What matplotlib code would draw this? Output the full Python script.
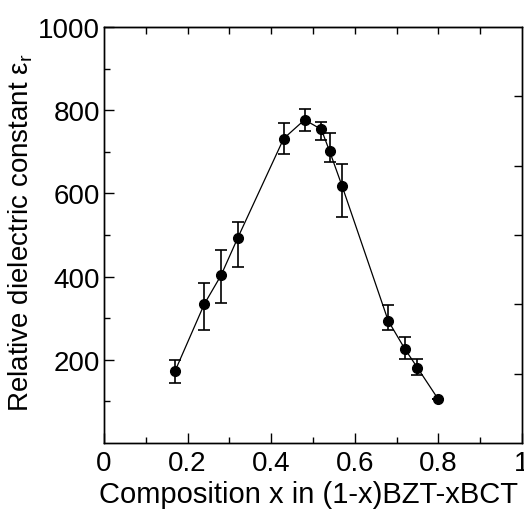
import matplotlib
matplotlib.use('Agg')
import matplotlib.pyplot as plt
import numpy as np

plt.rcParams['font.family'] = ['Liberation Sans', 'DejaVu Sans']

# composition x and relative dielectric constant
x_comp = [0.17, 0.24, 0.28, 0.32, 0.43, 0.48, 0.52, 0.54, 0.57, 0.68, 0.72, 0.75, 0.80]
eps_r = [173, 334, 403, 493, 732, 777, 754, 701, 617, 294, 226, 181, 105]
err_low = [29, 63, 66, 70, 37, 27, 26, 25, 74, 23, 25, 17, 0]
err_high = [26, 51, 60, 38, 37, 25, 18, 45, 54, 37, 29, 20, 0]

fig = plt.figure(figsize=(5.24, 5.10), dpi=100)
ax = fig.add_axes([0.1985, 0.1294, 0.7975, 0.8156])

ax.errorbar(x_comp, eps_r, yerr=[err_low, err_high], fmt='o-', color='black',
            markersize=7, linewidth=0.9, elinewidth=1.2, capsize=4, capthick=1.2)

ax.set_xlim(0, 1)
ax.set_ylim(0, 1000)
ax.set_xticks([0, 0.2, 0.4, 0.6, 0.8, 1.0])
ax.set_xticklabels(['0', '0.2', '0.4', '0.6', '0.8', '1'])
ax.set_xticks(np.arange(0.1, 1.0, 0.2), minor=True)
ax.set_yticks([200, 400, 600, 800, 1000])
ax.set_yticks(np.arange(100, 1000, 200), minor=True)

ax.tick_params(which='both', direction='in', labelsize=20, top=False, right=False)
ax.tick_params(which='major', length=7, width=1)
ax.tick_params(which='minor', length=4, width=1)
ax.tick_params(axis='x', pad=5)
ax.tick_params(axis='y', pad=3)

# top ticks every 0.1
top = ax.secondary_xaxis('top')
top.set_xticks(np.arange(0.1, 1.0, 0.1))
top.tick_params(direction='in', length=5, width=1, labeltop=False)

# right axis ticks (secondary scale cropped off in original)
ax2 = ax.twinx()
ax2.set_ylim(0, 6)
ax2.set_yticks([1, 2, 3, 4, 5])
ax2.tick_params(direction='in', length=6, width=1, labelright=False)

for a in (ax, ax2):
    for s in a.spines.values():
        s.set_linewidth(1)

ax.set_xlabel('Composition x in (1-x)BZT-xBCT', fontsize=21, labelpad=3)
ax.xaxis.label.set_x(0.49)
ax.set_ylabel('Relative dielectric constant ε$_\\mathregular{r}$', fontsize=20, labelpad=2)
ax.yaxis.label.set_y(0.508)

fig.savefig('out.png', dpi=100)
